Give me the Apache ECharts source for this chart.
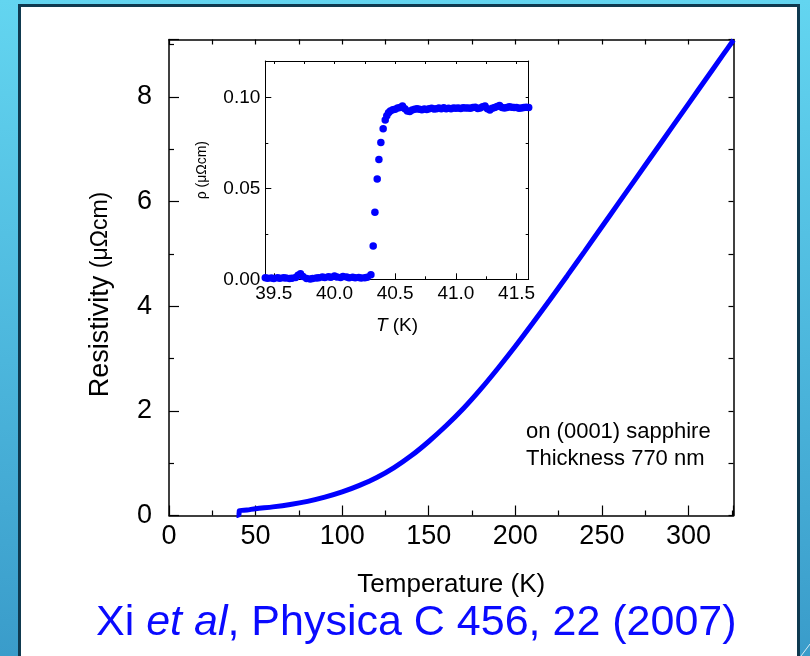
<!DOCTYPE html>
<html>
<head>
<meta charset="utf-8">
<script src="https://cdn.jsdelivr.net/npm/echarts@6/dist/echarts.min.js"></script>
<style>
html,body{margin:0;padding:0;width:810px;height:656px;overflow:hidden;}
body{background:linear-gradient(180deg,#63d5f0 0%,#4cb6dc 55%,#3a9cca 100%);position:relative;}
#panel{position:absolute;left:18px;top:4px;width:776px;height:670px;background:#fff;border:3px solid #0f3a50;}
#chart{position:absolute;left:0;top:0;width:810px;height:656px;}
</style>
</head>
<body>
<div id="panel"></div>
<div id="chart"></div>
<script>
// ---- Main curve: resistivity vs temperature ----
const mainT   = [39.0, 39.6, 40.4, 40.6, 45, 50, 60, 70, 80, 90, 100, 110, 120, 130, 140, 150, 160, 170, 180, 190, 200, 210, 220, 230, 240, 250, 260, 270, 280, 290, 300, 310, 320, 326];
const mainRho = [0, 0, 0.02, 0.09, 0.105, 0.13, 0.165, 0.21, 0.27, 0.35, 0.45, 0.575, 0.725, 0.915, 1.145, 1.415, 1.715, 2.045, 2.415, 2.815, 3.235, 3.675, 4.125, 4.585, 5.05, 5.52, 5.99, 6.46, 6.93, 7.40, 7.87, 8.34, 8.81, 9.09];

// ---- Inset: superconducting transition ----
const insetT = [39.43,39.45,39.48,39.50,39.53,39.55,39.58,39.60,39.63,39.65,39.68,39.70,39.72,39.74,39.77,39.80,39.82,39.85,39.87,39.90,39.92,39.95,39.97,40.00,40.02,40.05,40.07,40.10,40.12,40.15,40.17,40.20,40.22,40.25,40.27,40.30,
  40.319,40.333,40.352,40.366,40.382,40.401,40.418,40.431,40.445,40.46,40.48,40.50,40.52,40.54,40.56,40.58,40.60,40.62,40.64,40.66,40.68,40.70,40.72,40.74,40.76,40.78,40.80,40.82,40.84,40.86,40.88,40.90,40.92,40.94,40.96,40.98,41.00,41.02,41.04,41.06,41.08,41.10,41.12,41.14,41.16,41.18,41.20,41.22,41.24,41.26,41.28,41.30,41.32,41.34,41.36,41.38,41.40,41.42,41.44,41.46,41.48,41.50,41.52,41.54,41.56,41.58,41.60];
const insetRho = [0.0008,0.0006,0.0007,0.0005,0.0008,0.0006,0.0009,0.0007,0.0004,0.0006,0.0010,0.0022,0.0030,0.0015,0.0004,0.0002,0.0005,0.0007,0.0009,0.0012,0.0010,0.0014,0.0011,0.0018,0.0013,0.0010,0.0015,0.0012,0.0009,0.0011,0.0008,0.0010,0.0007,0.0009,0.0011,0.0025,
  0.0183,0.0369,0.0552,0.0659,0.0752,0.0828,0.0875,0.0899,0.0915,0.0925,0.0932,0.0935,0.0942,0.0945,0.0952,0.0938,0.0925,0.0922,0.0930,0.0935,0.0938,0.0935,0.0932,0.0936,0.0934,0.0938,0.0940,0.0936,0.0938,0.0942,0.0938,0.0943,0.0937,0.0940,0.0938,0.0942,0.0940,0.0942,0.0939,0.0943,0.0941,0.0942,0.0940,0.0944,0.0946,0.0939,0.0942,0.0948,0.0953,0.0937,0.0930,0.0940,0.0944,0.0950,0.0956,0.0945,0.0942,0.0945,0.0948,0.0946,0.0944,0.0945,0.0940,0.0942,0.0945,0.0946,0.0944];

// tick labels
const insetXTicks = [39.5, 40.0, 40.5, 41.0, 41.5];
const insetXMinor = [39.75, 40.25, 40.75, 41.25];
const insetXTop   = [39.5, 39.75, 40.0, 40.25, 40.5, 40.75, 41.0, 41.25, 41.5];

const mainData  = mainT.map((t, i) => [t, mainRho[i]]);
const insetData = insetT.map((t, i) => [t, insetRho[i]]);

const FONT = '"Liberation Sans", Arial, sans-serif';
const black = '#000';

const chart = echarts.init(document.getElementById('chart'), null, {renderer: 'canvas'});
chart.setOption({
  backgroundColor: 'transparent',
  animation: false,
  textStyle: {fontFamily: FONT},
  grid: [
    {left: 169, top: 39.5, width: 564.5, height: 476},
    {left: 265.3, top: 61, width: 263.4, height: 218.3}
  ],
  xAxis: [
    { // main bottom
      gridIndex: 0, type: 'value', min: 0, max: 326, interval: 50, position: 'bottom',
      axisLine: {show: true, onZero: false, lineStyle: {color: black, width: 1.5}},
      axisTick: {show: true, inside: true, length: 10, lineStyle: {color: black, width: 1.2}},
      minorTick: {show: true, splitNumber: 2, length: 5, lineStyle: {color: black, width: 1.2}},
      splitLine: {show: false},
      axisLabel: {fontSize: 27, color: black, margin: 8, fontFamily: FONT, showMaxLabel: false},
      name: 'Temperature (K)', nameLocation: 'middle', nameGap: 56,
      nameTextStyle: {fontSize: 26, color: black, fontFamily: FONT}
    },
    { // main top mirror
      gridIndex: 0, type: 'value', min: 0, max: 326, interval: 25, position: 'top',
      axisLine: {show: true, onZero: false, lineStyle: {color: black, width: 1.5}},
      axisTick: {show: true, inside: true, length: 5, lineStyle: {color: black, width: 1.2}},
      axisLabel: {show: false}, splitLine: {show: false}
    },
    { // inset bottom major
      gridIndex: 1, type: 'value', min: 39.43, max: 41.6, position: 'bottom',
      axisLine: {show: true, onZero: false, lineStyle: {color: black, width: 1}},
      axisTick: {show: true, inside: true, length: 6, customValues: insetXTicks, lineStyle: {color: black, width: 1}},
      axisLabel: {show: true, customValues: insetXTicks, fontSize: 19, color: black, margin: 5, fontFamily: FONT,
                  formatter: v => v.toFixed(1)},
      splitLine: {show: false},
      name: '{i|T} (K)', nameLocation: 'middle', nameGap: 37,
      nameTextStyle: {fontSize: 19, color: black, fontFamily: FONT,
        rich: {i: {fontStyle: 'italic', fontSize: 19, color: black, fontFamily: FONT}}}
    },
    { // inset bottom minor ticks
      gridIndex: 1, type: 'value', min: 39.43, max: 41.6, position: 'bottom',
      axisLine: {show: false, onZero: false},
      axisTick: {show: true, inside: true, length: 3, customValues: insetXMinor, lineStyle: {color: black, width: 1}},
      axisLabel: {show: false}, splitLine: {show: false}
    },
    { // inset top mirror
      gridIndex: 1, type: 'value', min: 39.43, max: 41.6, position: 'top',
      axisLine: {show: true, onZero: false, lineStyle: {color: black, width: 1}},
      axisTick: {show: true, inside: true, length: 3, customValues: insetXTop, lineStyle: {color: black, width: 1}},
      axisLabel: {show: false}, splitLine: {show: false}
    }
  ],
  yAxis: [
    { // main left
      gridIndex: 0, type: 'value', min: 0, max: 9.1, interval: 2, position: 'left',
      axisLine: {show: true, onZero: false, lineStyle: {color: black, width: 1.5}},
      axisTick: {show: true, inside: true, length: 10, lineStyle: {color: black, width: 1.2}},
      minorTick: {show: true, splitNumber: 2, length: 5, lineStyle: {color: black, width: 1.2}},
      splitLine: {show: false},
      axisLabel: {fontSize: 27, color: black, margin: 17, fontFamily: FONT, showMaxLabel: false},
      name: '{a|Resistivity }{b|(μΩcm)}', nameLocation: 'middle', nameGap: 55, nameRotate: 90,
      nameTextStyle: {fontSize: 27, color: black, fontFamily: FONT, padding: [0, 34, 0, 0],
        rich: {a: {fontSize: 27, color: black, fontFamily: FONT}, b: {fontSize: 23, color: black, fontFamily: FONT}}}
    },
    { // main right mirror
      gridIndex: 0, type: 'value', min: 0, max: 9.1, interval: 1, position: 'right',
      axisLine: {show: true, onZero: false, lineStyle: {color: black, width: 1.5}},
      axisTick: {show: true, inside: true, length: 5, lineStyle: {color: black, width: 1.2}},
      axisLabel: {show: false}, splitLine: {show: false}
    },
    { // inset left
      gridIndex: 1, type: 'value', min: 0, max: 0.12, interval: 0.05, position: 'left',
      axisLine: {show: true, onZero: false, lineStyle: {color: black, width: 1}},
      axisTick: {show: true, inside: true, length: 6, lineStyle: {color: black, width: 1}},
      minorTick: {show: true, splitNumber: 2, length: 3, lineStyle: {color: black, width: 1}},
      splitLine: {show: false},
      axisLabel: {fontSize: 19, color: black, margin: 5, fontFamily: FONT, formatter: v => v.toFixed(2), showMaxLabel: false},
      name: 'ρ (μΩcm)', nameLocation: 'middle', nameGap: 56, nameRotate: 90,
      nameTextStyle: {fontSize: 14, color: black, fontFamily: FONT}
    },
    { // inset right mirror
      gridIndex: 1, type: 'value', min: 0, max: 0.12, interval: 0.025, position: 'right',
      axisLine: {show: true, onZero: false, lineStyle: {color: black, width: 1}},
      axisTick: {show: true, inside: true, length: 3, lineStyle: {color: black, width: 1}},
      axisLabel: {show: false}, splitLine: {show: false}
    }
  ],
  series: [
    {
      type: 'line', xAxisIndex: 0, yAxisIndex: 0, data: mainData,
      showSymbol: false, smooth: 0.3, clip: true,
      lineStyle: {color: '#0000ff', width: 5}
    },
    {
      type: 'scatter', xAxisIndex: 2, yAxisIndex: 2, data: insetData,
      symbol: 'circle', symbolSize: 7.5, clip: false,
      itemStyle: {color: '#0000ff', opacity: 1}
    }
  ],
  graphic: [
    {
      type: 'text', left: 526, top: 418,
      style: {text: 'on (0001) sapphire\nThickness 770 nm', fontSize: 22, lineHeight: 27,
              fill: '#000', fontFamily: FONT, align: 'center', x: 0, y: 0}
    },
    {
      type: 'text', left: 96, top: 602,
      style: {
        text: '{n|Xi }{i|et al}{n|, Physica C 456, 22 (2007)}',
        fontFamily: FONT, fill: '#0a0aff',
        rich: {
          n: {fontSize: 43, fill: '#0a0aff', fontFamily: FONT},
          i: {fontSize: 43, fill: '#0a0aff', fontFamily: FONT, fontStyle: 'italic'}
        }
      }
    },
    {
      type: 'line', shape: {x1: 801, y1: 656, x2: 810, y2: 644},
      style: {stroke: 'rgba(255,255,255,0.8)', lineWidth: 1}
    }
  ]
});
</script>
</body>
</html>
